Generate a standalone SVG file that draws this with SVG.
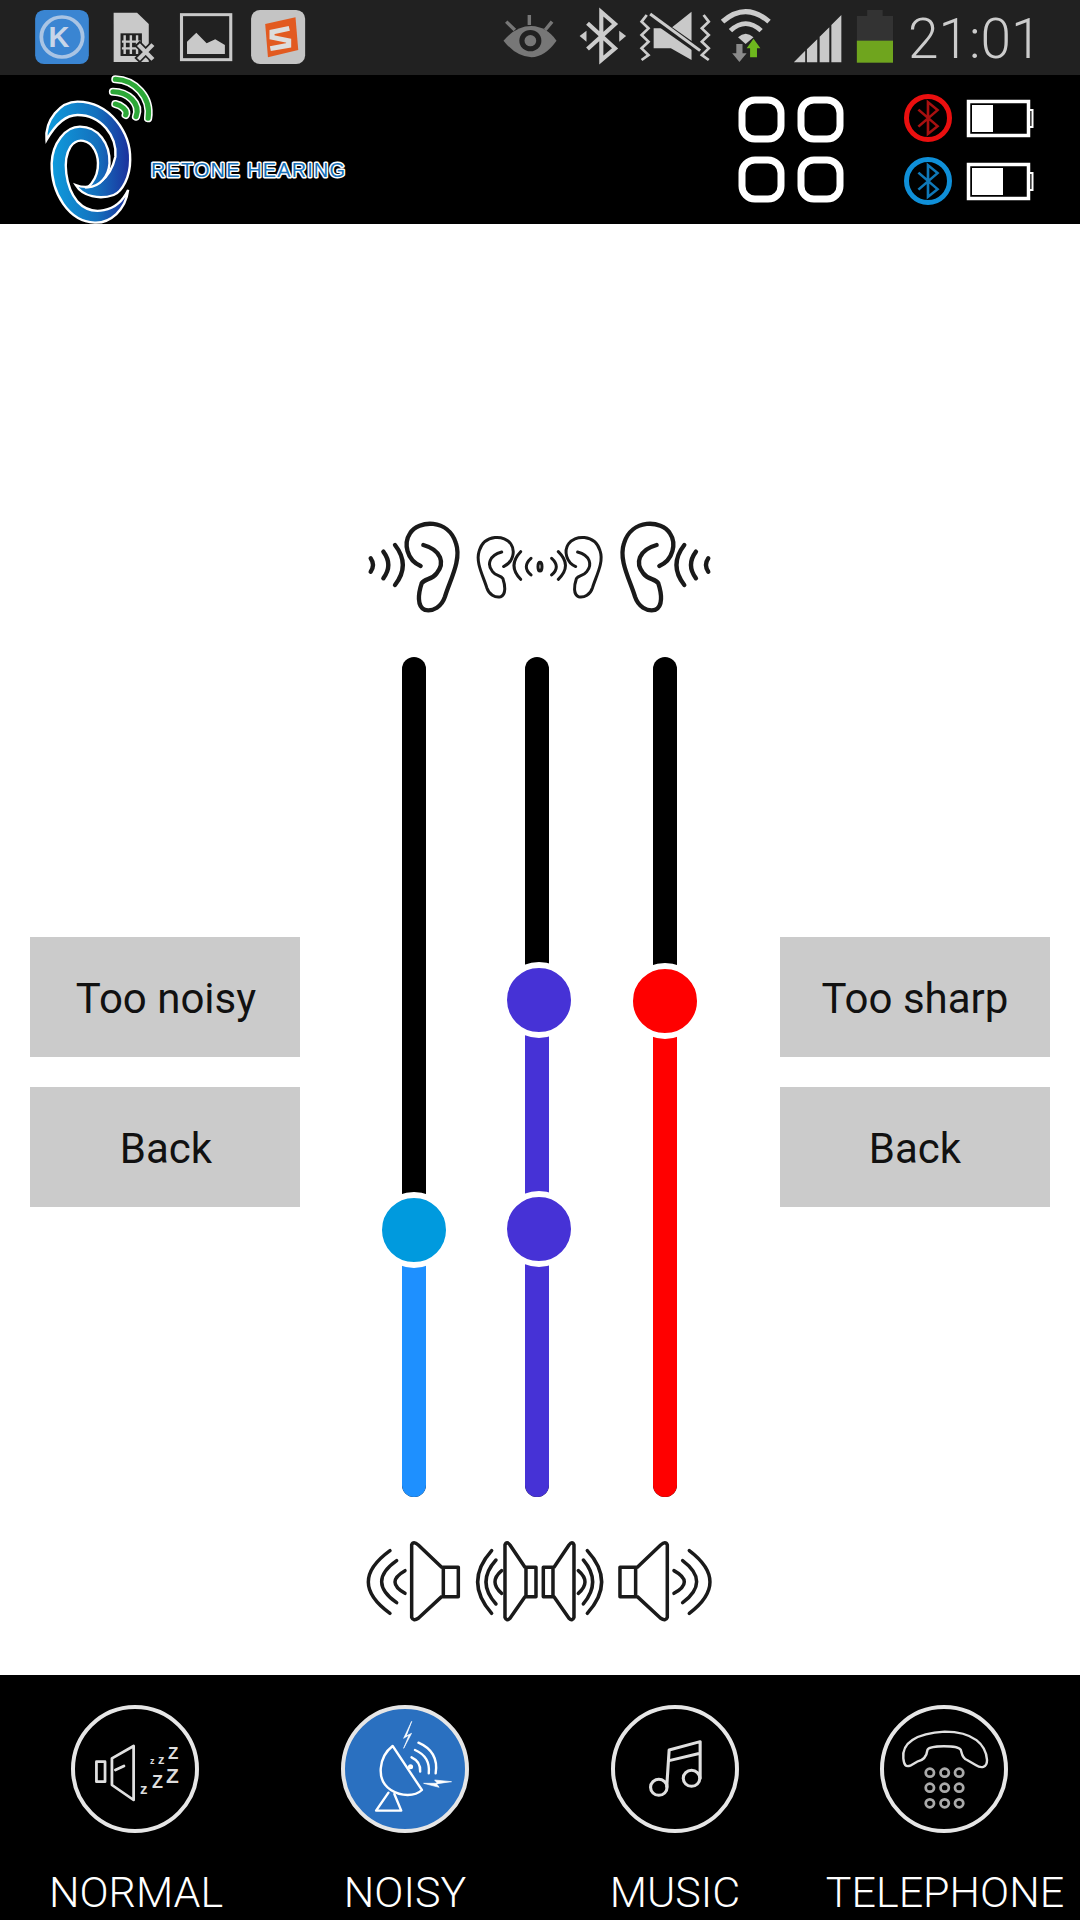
<svg xmlns="http://www.w3.org/2000/svg" xmlns:xlink="http://www.w3.org/1999/xlink" width="1080" height="1920" viewBox="0 0 1080 1920">
<defs>
<linearGradient id="logoGrad" x1="0" y1="0" x2="1" y2="0"><stop offset="0" stop-color="#0f9bdc"/><stop offset="0.6" stop-color="#1470bd"/><stop offset="1" stop-color="#1c2f9c"/></linearGradient>
<path id="ear" d="M212,198 C170,180 160,130 180,100 C205,60 295,55 318,130 C335,180 300,240 285,290 C275,320 250,335 225,330 C200,320 205,280 215,250 C225,235 245,240 260,220 C285,190 275,150 220,135"/>
<path id="bt" d="M-40,-38 L40,37 L0,72 L0,-72 L40,-36 L-40,39"/>
</defs>
<style>
.ln{fill:none;stroke:#1a1a1a;stroke-linecap:round;stroke-linejoin:round}
.btn{fill:#cbcbcb}
.btxt{font-family:Roboto,"Liberation Sans",sans-serif;font-size:42px;fill:#111;text-anchor:middle}
.lbl{font-family:Roboto,"Liberation Sans",sans-serif;font-size:43px;font-weight:300;fill:#fff;text-anchor:middle}
.ic{fill:none;stroke:#e0e0e0;stroke-linecap:round;stroke-linejoin:round}
.ring{fill:none;stroke:#e6e6e6;stroke-width:4}
.zz{font-family:"Liberation Sans",sans-serif;fill:#ddd;font-weight:700}
.sq{fill:none;stroke:#fff;stroke-width:7}
.sb{fill:#c9c9c9}
.knob{stroke:#fff;stroke-width:6}
</style>
<rect width="1080" height="1920" fill="#fff"/>

<g id="status-bar">
<rect width="1080" height="75" fill="#212121"/>
<g transform="translate(0,0) scale(.3444,.3333)">
<rect x="102" y="30" width="156" height="162" rx="26" fill="#3a85d2"/>
<circle cx="180" cy="111" r="60" fill="none" stroke="#a9c4e4" stroke-width="11"/>
<path d="M330,38 H398 L432,72 V186 H330Z" class="sb"/>
<rect x="350" y="100" width="62" height="68" fill="#212121"/>
<path d="M362,106V162M380,106V162M398,106V162M354,125H408M354,145H408" stroke="#c9c9c9" stroke-width="7"/>
<path d="M398,130L448,182M448,130L398,182" stroke="#212121" stroke-width="22"/>
<path d="M402,134L444,178M444,134L402,178" stroke="#c9c9c9" stroke-width="12"/>
<rect x="527" y="44" width="143" height="135" fill="none" stroke="#c9c9c9" stroke-width="9"/>
<path d="M543,162V125L570,98L600,130L625,118L653,135V162Z" class="sb"/>
<rect x="729" y="30" width="157" height="162" rx="26" fill="#c4c4c4"/>
<path d="M770,72L858,52L866,150L778,172Z" fill="#e25a20"/>
<path d="M840,85L790,96V112L838,122V136L785,146" fill="none" stroke="#ddd" stroke-width="15"/>
</g>
<g transform="translate(540,0) scale(.3444,.3333)">
<path d="M-106,122 Q-70,78 -25,78 Q20,80 48,122 Q15,170 -25,172 Q-70,170 -106,122Z" fill="#777"/>
<circle cx="-28" cy="122" r="32" fill="#212121"/>
<circle cx="-28" cy="122" r="17" fill="#777"/>
<path d="M-98,65L-73,90M-31,45V75M35,65L15,90" stroke="#777" stroke-width="10" fill="none"/>
<g transform="translate(178,108)" fill="none" stroke="#ccc" stroke-width="12"><use xlink:href="#bt" href="#bt"/></g>
<path d="M115,108L135,92V125ZM250,108L230,92V125Z" class="sb"/>
<path d="M330,85H380L440,35V180L380,145H330Z" class="sb"/>
<path d="M315,45L470,158" stroke="#212121" stroke-width="22"/>
<path d="M320,42L465,152" stroke="#ccc" stroke-width="9"/>
<path d="M310,45L295,65L315,85L295,105L315,125L295,145L315,165L295,180M475,45L490,65L470,85L490,105L470,125L490,145L470,165L490,180" fill="none" stroke="#ccc" stroke-width="8"/>
<path d="M530,65Q597,5 665,65" fill="none" stroke="#ccc" stroke-width="15"/>
<path d="M553,92Q597,50 642,92" fill="none" stroke="#ccc" stroke-width="14"/>
<path d="M575,112Q597,90 620,112L597,132Z" class="sb"/>
<path d="M570,132H588V160H600L579,186L558,160H570Z" fill="#8a8a8a"/>
<path d="M620,116L640,145H630V172H610V145H600Z" fill="#6eb81e"/>
<path d="M737,187L770,152V187ZM775,187V148L805,118V187ZM812,187V110L840,82V187ZM846,187V75L875,45V187Z" class="sb"/>
<rect x="920" y="48" width="105" height="140" fill="#333"/>
<rect x="950" y="30" width="45" height="18" fill="#333"/>
<rect x="920" y="122" width="105" height="66" fill="#6fa51e"/>
</g>
<text x="908" y="58" font-family="Roboto,'Liberation Sans',sans-serif" font-weight="300" font-size="55" fill="#ccc">21:01</text>
<text x="59" y="47" font-family="'Liberation Sans',sans-serif" font-weight="700" font-size="29" fill="#c8d6e8" text-anchor="middle">K</text>
</g>

<g id="header">
<rect y="75" width="1080" height="149" fill="#000"/>
<g id="logo" transform="scale(.3444,.3333)">
<path d="M135,420 C130,360 175,305 225,305 C320,305 380,400 378,480 C378,530 355,575 330,585 C290,600 240,590 220,555 C270,575 320,540 335,470 C340,410 295,345 225,345 C190,345 160,375 135,420Z" fill="url(#logoGrad)" stroke="#fff" stroke-width="7"/>
<path d="M372,570 C365,630 320,670 275,668 C200,665 148,580 150,490 C152,430 190,380 232,380 C285,380 320,430 318,490 C315,530 290,560 255,562 C290,530 290,480 275,450 C260,420 225,410 205,440 C180,480 190,560 225,605 C265,650 340,640 372,570Z" fill="url(#logoGrad)" stroke="#fff" stroke-width="7"/>
<g fill="none" stroke-linecap="round">
<path d="M335,238 C390,240 440,290 430,355" stroke="#fff" stroke-width="24"/>
<path d="M328,275 C370,275 410,310 395,350" stroke="#fff" stroke-width="24"/>
<path d="M335,312 C350,315 372,330 365,345" stroke="#fff" stroke-width="24"/>
<path d="M335,238 C390,240 440,290 430,355" stroke="#2da838" stroke-width="15"/>
<path d="M328,275 C370,275 410,310 395,350" stroke="#2da838" stroke-width="15"/>
<path d="M335,312 C350,315 372,330 365,345" stroke="#2da838" stroke-width="15"/>
</g>
</g>
<text x="151" y="177" font-family="'Liberation Sans',sans-serif" font-size="20" letter-spacing="1.1" fill="#1570b8" stroke="#fff" stroke-width="3" paint-order="stroke" stroke-linejoin="round">RETONE HEARING</text>
<g id="grid">
<rect class="sq" x="742" y="100" width="39" height="39" rx="13"/>
<rect class="sq" x="801" y="100" width="39" height="39" rx="13"/>
<rect class="sq" x="742" y="160" width="39" height="39" rx="13"/>
<rect class="sq" x="801" y="160" width="39" height="39" rx="13"/>
</g>
<g id="bt-left">
<circle cx="928" cy="118" r="21.5" fill="none" stroke="#ea0f0f" stroke-width="5"/>
<g transform="translate(928,118) scale(.24,.22)" fill="none" stroke="#a81010" stroke-width="11"><use xlink:href="#bt" href="#bt"/></g>
<g fill="none" stroke="#fff"><rect x="968.500" y="101.500" width="60" height="34" stroke-width="3.500"/><rect x="1028.500" y="110" width="4" height="17" stroke-width="2"/></g>
<rect x="972" y="105" width="21" height="27" fill="#fff"/>
</g>
<g id="bt-right">
<circle cx="928" cy="181" r="21.500" fill="none" stroke="#0f8fd8" stroke-width="5"/>
<g transform="translate(928,181) scale(.24,.22)" fill="none" stroke="#0f78b8" stroke-width="11"><use xlink:href="#bt" href="#bt"/></g>
<g fill="none" stroke="#fff"><rect x="968.500" y="164.500" width="60" height="34" stroke-width="3.500"/><rect x="1028.500" y="173" width="4" height="17" stroke-width="2"/></g>
<rect x="972" y="168" width="31" height="27" fill="#fff"/>
</g>
</g>

<g id="ear-icons" transform="translate(350,500) scale(.3333)">
<g class="ln" stroke-width="13">
<use xlink:href="#ear" href="#ear"/>
<path d="M135,135Q182,195 135,255M100,155Q130,195 100,235M62,175Q76,195 62,215"/>
<use xlink:href="#ear" href="#ear" transform="translate(1140,0) scale(-1,1)"/>
<path d="M1003,135Q956,195 1003,255M1038,155Q1008,195 1038,235M1075,175Q1061,195 1075,215"/>
</g>
<g class="ln" stroke-width="9">
<use xlink:href="#ear" href="#ear" stroke-width="13" transform="translate(607,63) scale(-.69,.69)"/>
<use xlink:href="#ear" href="#ear" stroke-width="13" transform="translate(531,63) scale(.69,.69)"/>
<path d="M512,155Q472,197 512,238M543,175Q515,200 543,225M605,175Q633,200 605,225M625,155Q668,197 625,238"/>
<ellipse cx="570" cy="200" rx="6" ry="13"/>
</g>
</g>

<g id="slider-left">
<rect x="402" y="657" width="24" height="840" rx="12" fill="#000"/>
<path d="M402,1229H426V1485A12,12 0 0 1 402,1485Z" fill="#1e90ff"/>
<circle class="knob" cx="414" cy="1230" r="35" fill="#009ade"/>
</g>
<g id="slider-mid">
<rect x="525" y="657" width="24" height="840" rx="12" fill="#000"/>
<path d="M525,1000H549V1485A12,12 0 0 1 525,1485Z" fill="#4632d6"/>
<circle class="knob" cx="539" cy="1000" r="35" fill="#4632d6"/>
<circle class="knob" cx="539" cy="1229" r="35" fill="#4632d6"/>
</g>
<g id="slider-right">
<rect x="653" y="657" width="24" height="840" rx="12" fill="#000"/>
<path d="M653,1001H677V1485A12,12 0 0 1 653,1485Z" fill="#f00"/>
<circle class="knob" cx="665" cy="1001" r="35" fill="#f00"/>
</g>

<g id="btn-too-noisy"><rect class="btn" x="30" y="937" width="270" height="120"/><text class="btxt" x="166" y="1013">Too noisy</text></g>
<g id="btn-back-left"><rect class="btn" x="30" y="1087" width="270" height="120"/><text class="btxt" x="166" y="1163">Back</text></g>
<g id="btn-too-sharp"><rect class="btn" x="780" y="937" width="270" height="120"/><text class="btxt" x="915" y="1013">Too sharp</text></g>
<g id="btn-back-right"><rect class="btn" x="780" y="1087" width="270" height="120"/><text class="btxt" x="915" y="1163">Back</text></g>

<g id="speaker-icons" transform="translate(350,1480) scale(.3333)">
<g class="ln" stroke-width="10.500">
<path d="M185,195V412Q190,425 205,415L275,350H325V262H275L205,195Q190,182 185,195ZM280,262V350"/>
<path d="M120,212Q-10,306 120,400M140,242Q50,305 140,368M165,272Q105,306 165,340"/>
<path d="M465,195V412Q470,425 480,415L525,350H558V262H525L480,195Q470,182 465,195ZM528,262V350"/>
<path d="M425,212Q341,306 425,400M438,240Q378,306 438,372M455,272Q415,306 455,340"/>
<path d="M672,195V412Q667,425 657,415L612,350H580V262H612L657,195Q667,182 672,195ZM609,262V350"/>
<path d="M712,212Q798,306 712,400M700,240Q756,306 700,372M685,272Q725,306 685,340"/>
<path d="M952,195V412Q947,425 932,415L862,350H810V262H862L932,195Q947,182 952,195ZM857,262V350"/>
<path d="M1018,212Q1142,306 1018,400M998,242Q1082,305 998,368M972,272Q1034,306 972,340"/>
</g>
</g>

<g id="tab-bar">
<rect y="1675" width="1080" height="245" fill="#000"/>
<g id="tab-normal">
<circle class="ring" cx="135" cy="1769" r="62"/>
<g class="ic" stroke-width="8" transform="translate(0,1670) scale(.3444,.3333)">
<rect x="280" y="275" width="25" height="60"/>
<path d="M325,265L388,228V390L325,345Z"/>
<path d="M335,300L360,288" stroke-width="8"/>
</g>
<g class="zz">
<text x="150" y="1764" font-size="9">z</text><text x="158" y="1764" font-size="13">z</text><text x="168" y="1759" font-size="17">Z</text>
<text x="140" y="1794" font-size="15">z</text><text x="152" y="1788" font-size="18">Z</text><text x="166" y="1783" font-size="21">Z</text>
</g>
<text class="lbl" x="136" y="1907">NORMAL</text>
</g>
<g id="tab-noisy">
<circle cx="405" cy="1769" r="62" fill="#2a70c0" stroke="#e6e6e6" stroke-width="4"/>
<g transform="translate(0,1670) scale(.3444,.3333)" fill="none" stroke="#fff" stroke-width="7" stroke-linecap="round" stroke-linejoin="round">
<path d="M1140,228C1100,260 1090,330 1135,360C1165,380 1205,380 1225,360Z"/>
<path d="M1128,368L1092,422H1165L1145,372"/>
<path d="M1195,262Q1222,275 1220,305M1205,240Q1250,260 1245,310M1215,218Q1275,245 1265,310"/>
<circle cx="1192" cy="290" r="4"/>
<path d="M1195,155L1172,205L1188,195L1172,235L1195,190L1180,198Z" fill="#fff" stroke-width="2"/>
<path d="M1310,335L1262,330L1270,340L1230,340L1275,352L1268,342Z" fill="#fff" stroke-width="2"/>
</g>
<text class="lbl" x="405" y="1907">NOISY</text>
</g>
<g id="tab-music">
<circle class="ring" cx="675" cy="1769" r="62"/>
<g class="ic" stroke-width="9" transform="translate(540,1670) scale(.3444,.3333)">
<circle cx="345" cy="352" r="24"/><circle cx="440" cy="325" r="24"/>
<path d="M368,350L375,240L465,215V325M375,272L465,250"/>
</g>
<text class="lbl" x="675" y="1907">MUSIC</text>
</g>
<g id="tab-telephone">
<circle class="ring" cx="944" cy="1769" r="62"/>
<g transform="translate(540,1670) scale(.3444,.3333)">
<path class="ic" stroke-width="7" d="M1055,265C1050,220 1090,190 1175,185C1260,185 1295,225 1298,270C1298,295 1280,295 1265,285L1240,270C1225,265 1225,250 1222,240C1215,225 1130,225 1125,240C1122,265 1110,272 1095,275L1075,287C1062,292 1057,285 1055,265Z"/>
<g fill="none" stroke="#aaa" stroke-width="8">
<circle cx="1132" cy="308" r="12"/><circle cx="1175" cy="308" r="12"/><circle cx="1217" cy="308" r="12"/>
<circle cx="1132" cy="353" r="12"/><circle cx="1175" cy="353" r="12"/><circle cx="1217" cy="353" r="12"/>
<circle cx="1132" cy="400" r="12"/><circle cx="1175" cy="400" r="12"/><circle cx="1217" cy="400" r="12"/>
</g>
</g>
<text class="lbl" x="945" y="1907">TELEPHONE</text>
</g>
</g>
</svg>
